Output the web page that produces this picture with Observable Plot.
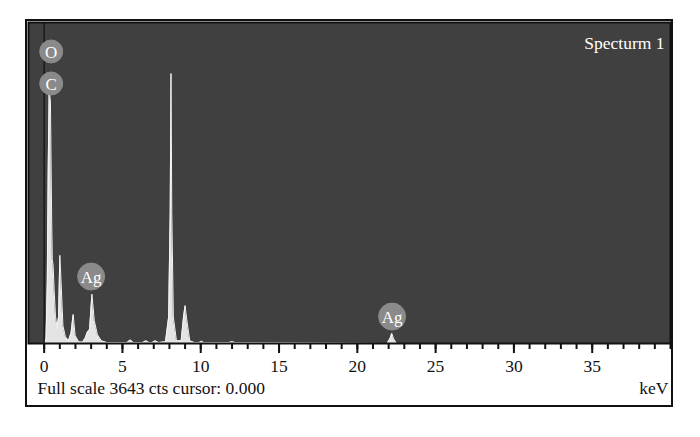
<!DOCTYPE html>
<html>
<head>
<meta charset="utf-8">
<script src="https://cdn.jsdelivr.net/npm/d3@7"></script>
<script src="https://cdn.jsdelivr.net/npm/@observablehq/plot@0.6"></script>
<style>
  html, body { margin: 0; padding: 0; background: #fff; }
  #wrap { position: relative; width: 700px; height: 437px; }
  #box { position: absolute; left: 25px; top: 19px; width: 644px; height: 384px; border: 2px solid #111; }
  #chart { position: absolute; left: 0; top: 0; }
</style>
</head>
<body>
<div id="wrap"><div id="box"></div><div id="chart"></div></div>
<script>
// Spectrum (energy in keV, counts)
const energy = [-1, 0.0, 0.12, 0.2, 0.26, 0.32, 0.4, 0.48, 0.52, 0.57, 0.64, 0.72, 0.82, 0.92, 1.0, 1.08, 1.2, 1.35, 1.55, 1.72, 1.85, 1.98, 2.2, 2.45, 2.62, 2.75, 2.9, 3.05, 3.2, 3.4, 3.65, 4.0, 5.3, 5.5, 5.7, 6.3, 6.5, 6.7, 6.9, 7.1, 7.3, 7.75, 7.95, 8.05, 8.1, 8.15, 8.25, 8.45, 8.75, 8.9, 9.0, 9.1, 9.3, 9.6, 9.9, 10.05, 10.2, 11.8, 12.0, 12.2, 21.9, 22.1, 22.2, 22.3, 22.5, 40];
const counts = [0, 0, 60, 700, 2000, 2870, 2750, 1400, 950, 890, 600, 320, 180, 300, 1000, 700, 200, 80, 30, 120, 330, 90, 20, 15, 60, 125, 160, 560, 260, 100, 30, 10, 10, 40, 10, 10, 30, 10, 10, 30, 10, 20, 300, 1500, 3064, 1500, 300, 30, 30, 300, 430, 280, 30, 10, 10, 25, 10, 10, 20, 10, 0, 60, 115, 60, 0, 0];

// Peak labels
const labelNames = ["O", "C", "Ag", "Ag"];
const labelKeV = [0.45, 0.45, 3.0, 22.22];
const labelCts = [3314, 2951, 760, 306];

// Axis ticks
const majorTicks = [0, 5, 10, 15, 20, 25, 30, 35];
const minorTicks = d3.range(0, 41, 1);

const spectrumTitle = ["Specturm 1"];
const captionLeft = ["Full scale 3643 cts cursor: 0.000"];
const captionRight = ["keV"];
const cursorKeV = [0];

const spectrum = energy.map((e, i) => ({keV: e, cts: counts[i]}));
const labels = labelNames.map((n, i) => ({name: n, keV: labelKeV[i], cts: labelCts[i]}));

const serif = "Liberation Serif, Times New Roman, serif";

const chart = Plot.plot({
  width: 700,
  height: 437,
  marginLeft: 28,
  marginRight: 30,
  marginTop: 22,
  marginBottom: 94,
  style: {fontFamily: serif, background: "transparent"},
  x: {domain: [-1, 40], label: null},
  y: {domain: [0, 3643], axis: null},
  r: {type: "identity"},
  marks: [
    Plot.frame({fill: "#404040", stroke: "none"}),
    Plot.areaY(spectrum, {x: "keV", y: "cts", fill: "#e4e4e4", curve: "linear"}),
    Plot.lineY(spectrum, {x: "keV", y: "cts", stroke: "#f4f4f4", strokeWidth: 1, curve: "linear"}),
    Plot.ruleX(cursorKeV, {stroke: "#1a1a1a", strokeWidth: 1.5}),
    Plot.dot(labels, {x: "keV", y: "cts", r: d => d.name.length > 1 ? 13.5 : 11.5, fill: "#8a8a8a", stroke: "#8a8a8a", strokeWidth: 1}),
    Plot.text(labels, {x: "keV", y: "cts", text: "name", fill: "#fff", fontSize: 17, fontFamily: serif, dy: 1}),
    Plot.frame({stroke: "#111", strokeWidth: 2, fill: "none"}),
    Plot.axisX(minorTicks, {tickSize: 6, strokeWidth: 2, stroke: "#111", tickFormat: () => "", label: null}),
    Plot.axisX(majorTicks, {tickSize: 10, tickPadding: 6, strokeWidth: 2, stroke: "#111", fill: "#111", fontSize: 17.5, fontFamily: serif, label: null}),
    Plot.text(spectrumTitle, {frameAnchor: "top-right", dx: -6, dy: 14, text: d => d, fill: "#fff", fontSize: 17.5, fontFamily: serif, textAnchor: "end"}),
    Plot.text(captionLeft, {frameAnchor: "bottom-left", dx: 9, dy: 50, text: d => d, fill: "#111", fontSize: 17.5, fontFamily: serif, textAnchor: "start"}),
    Plot.text(captionRight, {frameAnchor: "bottom-right", dx: -2, dy: 50, text: d => d, fill: "#111", fontSize: 17.5, fontFamily: serif, textAnchor: "end"})
  ]
});
document.getElementById("chart").appendChild(chart);
</script>
</body>
</html>
